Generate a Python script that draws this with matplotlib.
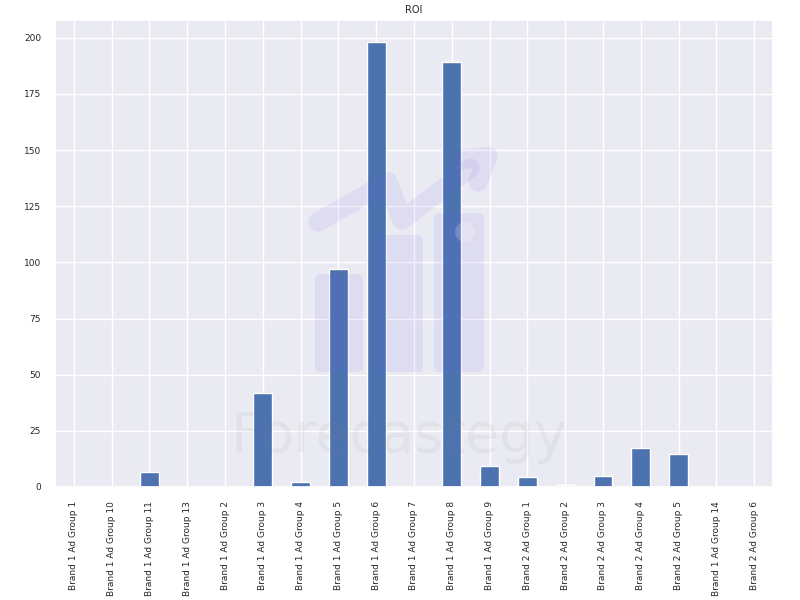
import matplotlib
matplotlib.use("Agg")
import matplotlib.pyplot as plt
import seaborn as sns
from matplotlib.patches import FancyBboxPatch, Circle
from matplotlib.lines import Line2D
from matplotlib.transforms import Affine2D

categories = ["Brand 1 Ad Group 1", "Brand 1 Ad Group 10", "Brand 1 Ad Group 11",
              "Brand 1 Ad Group 13", "Brand 1 Ad Group 2", "Brand 1 Ad Group 3",
              "Brand 1 Ad Group 4", "Brand 1 Ad Group 5", "Brand 1 Ad Group 6",
              "Brand 1 Ad Group 7", "Brand 1 Ad Group 8", "Brand 1 Ad Group 9",
              "Brand 2 Ad Group 1", "Brand 2 Ad Group 2", "Brand 2 Ad Group 3",
              "Brand 2 Ad Group 4", "Brand 2 Ad Group 5", "Brand 1 Ad Group 14",
              "Brand 2 Ad Group 6"]
roi = [0, 0, 6.8, 0, 0, 42, 2.2, 97, 198, 0, 189.3, 9.5, 4.5, 1.0, 4.9, 17.5, 14.5, 0, 0]

sns.set_theme(style="darkgrid")
plt.rcParams['font.family'] = ['DejaVu Sans']

fig = plt.figure(figsize=(8, 6), dpi=100)
ax = fig.add_axes([55/800, 1-487/600, (773-55)/800, (487-20)/600])
x = list(range(len(categories)))
ax.bar(x, roi, width=0.5, color="#4c72b0")
ax.set_xticks(x)
ax.set_xticklabels(categories, rotation=90, fontsize=6.5, color="#262626")
ax.tick_params(axis='y', labelsize=6.5, labelcolor="#262626")
ax.tick_params(axis='both', pad=4)
ax.set_xlim(-0.5, len(categories) - 0.5)
ax.set_ylim(0, max(roi) * 1.05)
ax.set_title("ROI", fontsize=7, pad=5)

# watermark (display coords, pixels from top-left converted)
H = 600
tr = Affine2D().scale(1, -1).translate(0, H)
wm = "#7b68ee"
for (x0, y0, x1, y1) in [(315, 274, 363, 372), (374, 235, 423, 372), (434, 213, 484, 372)]:
    p = FancyBboxPatch((x0, y0), x1 - x0, y1 - y0, boxstyle="round,pad=0,rounding_size=6",
                       transform=tr, facecolor=wm, edgecolor="none", alpha=0.1, zorder=10)
    fig.patches.append(p)
fig.patches.append(Circle((465, 232), 10, transform=tr, facecolor="white", edgecolor="none",
                          alpha=0.2, zorder=11))
fig.lines.append(Line2D([318, 388, 402, 470], [222, 182, 220, 168], transform=tr, color=wm,
                        alpha=0.1, linewidth=14, solid_capstyle="round", solid_joinstyle="round", zorder=10))
fig.lines.append(Line2D([462, 488, 478], [160, 156, 182], transform=tr, color=wm,
                        alpha=0.1, linewidth=14, solid_capstyle="round", solid_joinstyle="round", zorder=10))
fig.text(399/800, 1-437/600, "Forecastegy", ha="center", va="center", fontsize=40,
         fontweight="medium", color="#808080", alpha=0.08, zorder=12)

fig.savefig("out.png", dpi=100)
